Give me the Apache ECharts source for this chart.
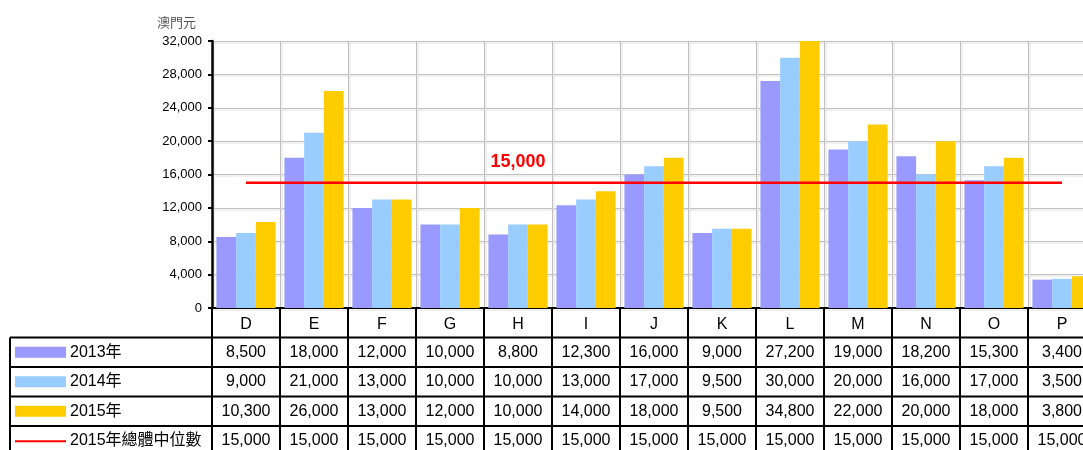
<!DOCTYPE html>
<html>
<head>
<meta charset="utf-8">
<script src="https://cdn.jsdelivr.net/npm/echarts@6/dist/echarts.min.js"></script>
<style>
  html, body { margin: 0; padding: 0; background: #fff; overflow: hidden; }
  #chart-container { width: 1096px; height: 450px; }
</style>
</head>
<body>
<div id="chart-container"></div>
<script>
var categories = ['D', 'E', 'F', 'G', 'H', 'I', 'J', 'K', 'L', 'M', 'N', 'O', 'P'];
var values2013 = [8500, 18000, 12000, 10000, 8800, 12300, 16000, 9000, 27200, 19000, 18200, 15300, 3400];
var values2014 = [9000, 21000, 13000, 10000, 10000, 13000, 17000, 9500, 30000, 20000, 16000, 17000, 3500];
var values2015 = [10300, 26000, 13000, 12000, 10000, 14000, 18000, 9500, 34800, 22000, 20000, 18000, 3800];
var median2015 = [15000, 15000, 15000, 15000, 15000, 15000, 15000, 15000, 15000, 15000, 15000, 15000, 15000];
var seriesNames = ['2013年', '2014年', '2015年', '2015年總體中位數'];
var colors = ['#9999FF', '#99CCFF', '#FFCC00', '#FF0000'];
var unitLabel = '澳門元';
var medianLabelIndex = 4;

var font = '"Liberation Sans", Arial, "Noto Sans CJK TC", sans-serif';
var chartDom = document.getElementById('chart-container');
var myChart = echarts.init(chartDom);

var fmt = function (v) { return v.toLocaleString('en-US'); };

var option = {
  animation: false,
  textStyle: { fontFamily: font },
  grid: { left: 212, right: 0, top: 41, bottom: 142, containLabel: false },
  legend: { show: false },
  xAxis: {
    type: 'category',
    data: categories,
    axisLine: { lineStyle: { color: '#000', width: 2 } },
    axisTick: { show: false },
    axisLabel: { color: '#000', fontSize: 16, margin: 9, fontFamily: font },
    splitLine: {
      show: true,
      lineStyle: { color: '#c0c0c0', width: 1, shadowColor: '#e2e2e2', shadowOffsetX: 1.5, shadowBlur: 0 }
    }
  },
  yAxis: {
    type: 'value',
    min: 0,
    max: 32000,
    interval: 4000,
    name: unitLabel,
    nameLocation: 'end',
    nameGap: 12,
    nameTextStyle: { color: '#555', fontSize: 13, align: 'right', padding: [0, 16, 0, 0], fontFamily: '"Noto Sans CJK TC", sans-serif' },
    axisLine: { show: true, lineStyle: { color: '#000', width: 2.5 } },
    axisTick: { show: true, inside: false, length: 4, lineStyle: { color: '#000', width: 2 } },
    axisLabel: { color: '#000', fontSize: 13, margin: 10, formatter: fmt, fontFamily: font },
    splitLine: {
      show: true,
      lineStyle: { color: '#c0c0c0', width: 1, shadowColor: '#e2e2e2', shadowOffsetY: 1.5, shadowBlur: 0 }
    }
  },
  series: [
    { name: seriesNames[0], type: 'bar', data: values2013, itemStyle: { color: colors[0] }, barGap: '0%', barCategoryGap: '13%' },
    { name: seriesNames[1], type: 'bar', data: values2014, itemStyle: { color: colors[1] }, barGap: '0%', barCategoryGap: '13%' },
    { name: seriesNames[2], type: 'bar', data: values2015, itemStyle: { color: colors[2] }, barGap: '0%', barCategoryGap: '13%' },
    {
      name: seriesNames[3], type: 'line', data: median2015,
      symbol: 'circle', symbolSize: 0, showSymbol: true, z: 5,
      itemStyle: { color: colors[3] },
      lineStyle: { color: colors[3], width: 2.5 },
      label: {
        show: true, position: 'top', distance: 12,
        color: colors[3], fontSize: 18, fontWeight: 'bold', fontFamily: font,
        formatter: function (p) { return p.dataIndex === medianLabelIndex ? fmt(p.value) : ''; }
      }
    }
  ]
};

myChart.setOption(option);

// data table below the plot, positioned from the chart's own scales
function buildTable() {
  var rows = [values2013, values2014, values2015, median2015];
  var c0 = myChart.convertToPixel({ xAxisIndex: 0 }, categories[0]);
  var c1 = myChart.convertToPixel({ xAxisIndex: 0 }, categories[1]);
  var band = c1 - c0;
  var gridLeft = c0 - band / 2;
  var gridRight = c0 + band * (categories.length - 0.5);
  var yBase = myChart.convertToPixel({ yAxisIndex: 0 }, 0);
  var headH = 29.5, rowH = 29.5;
  var tableLeft = 10;
  var bottom = yBase + headH + rows.length * rowH;
  var black = { stroke: '#000', lineWidth: 2 };
  var els = [];

  // vertical lines at category boundaries
  for (var i = 0; i <= categories.length; i++) {
    var x = gridLeft + i * band;
    els.push({ type: 'line', shape: { x1: x, y1: yBase, x2: x, y2: bottom }, style: black, z: 10 });
  }
  // left border of the legend column
  els.push({ type: 'line', shape: { x1: tableLeft, y1: yBase + headH, x2: tableLeft, y2: bottom }, style: black, z: 10 });
  // horizontal row lines
  for (var r = 0; r <= rows.length; r++) {
    var y = yBase + headH + r * rowH;
    els.push({ type: 'line', shape: { x1: tableLeft, y1: y, x2: gridRight, y2: y }, style: black, z: 10 });
  }

  rows.forEach(function (row, r) {
    var yc = yBase + headH + r * rowH + rowH / 2;
    // legend key
    if (r < 3) {
      els.push({ type: 'rect', shape: { x: tableLeft + 5, y: yc - 5.5, width: 51, height: 11 }, style: { fill: colors[r] }, z: 10 });
    } else {
      els.push({ type: 'line', shape: { x1: tableLeft + 5, y1: yc + 0.5, x2: tableLeft + 56, y2: yc + 0.5 }, style: { stroke: colors[r], lineWidth: 2 }, z: 10 });
    }
    els.push({
      type: 'text', x: tableLeft + 60, y: yc, z: 10,
      style: { text: seriesNames[r], fill: '#000', font: '16px ' + font, verticalAlign: 'middle', align: 'left' }
    });
    row.forEach(function (v, i) {
      els.push({
        type: 'text', x: c0 + i * band, y: yc, z: 10,
        style: { text: fmt(v), fill: '#000', font: '16px ' + font, verticalAlign: 'middle', align: 'center' }
      });
    });
  });

  myChart.setOption({ graphic: { elements: els } });
}

buildTable();
</script>
</body>
</html>
